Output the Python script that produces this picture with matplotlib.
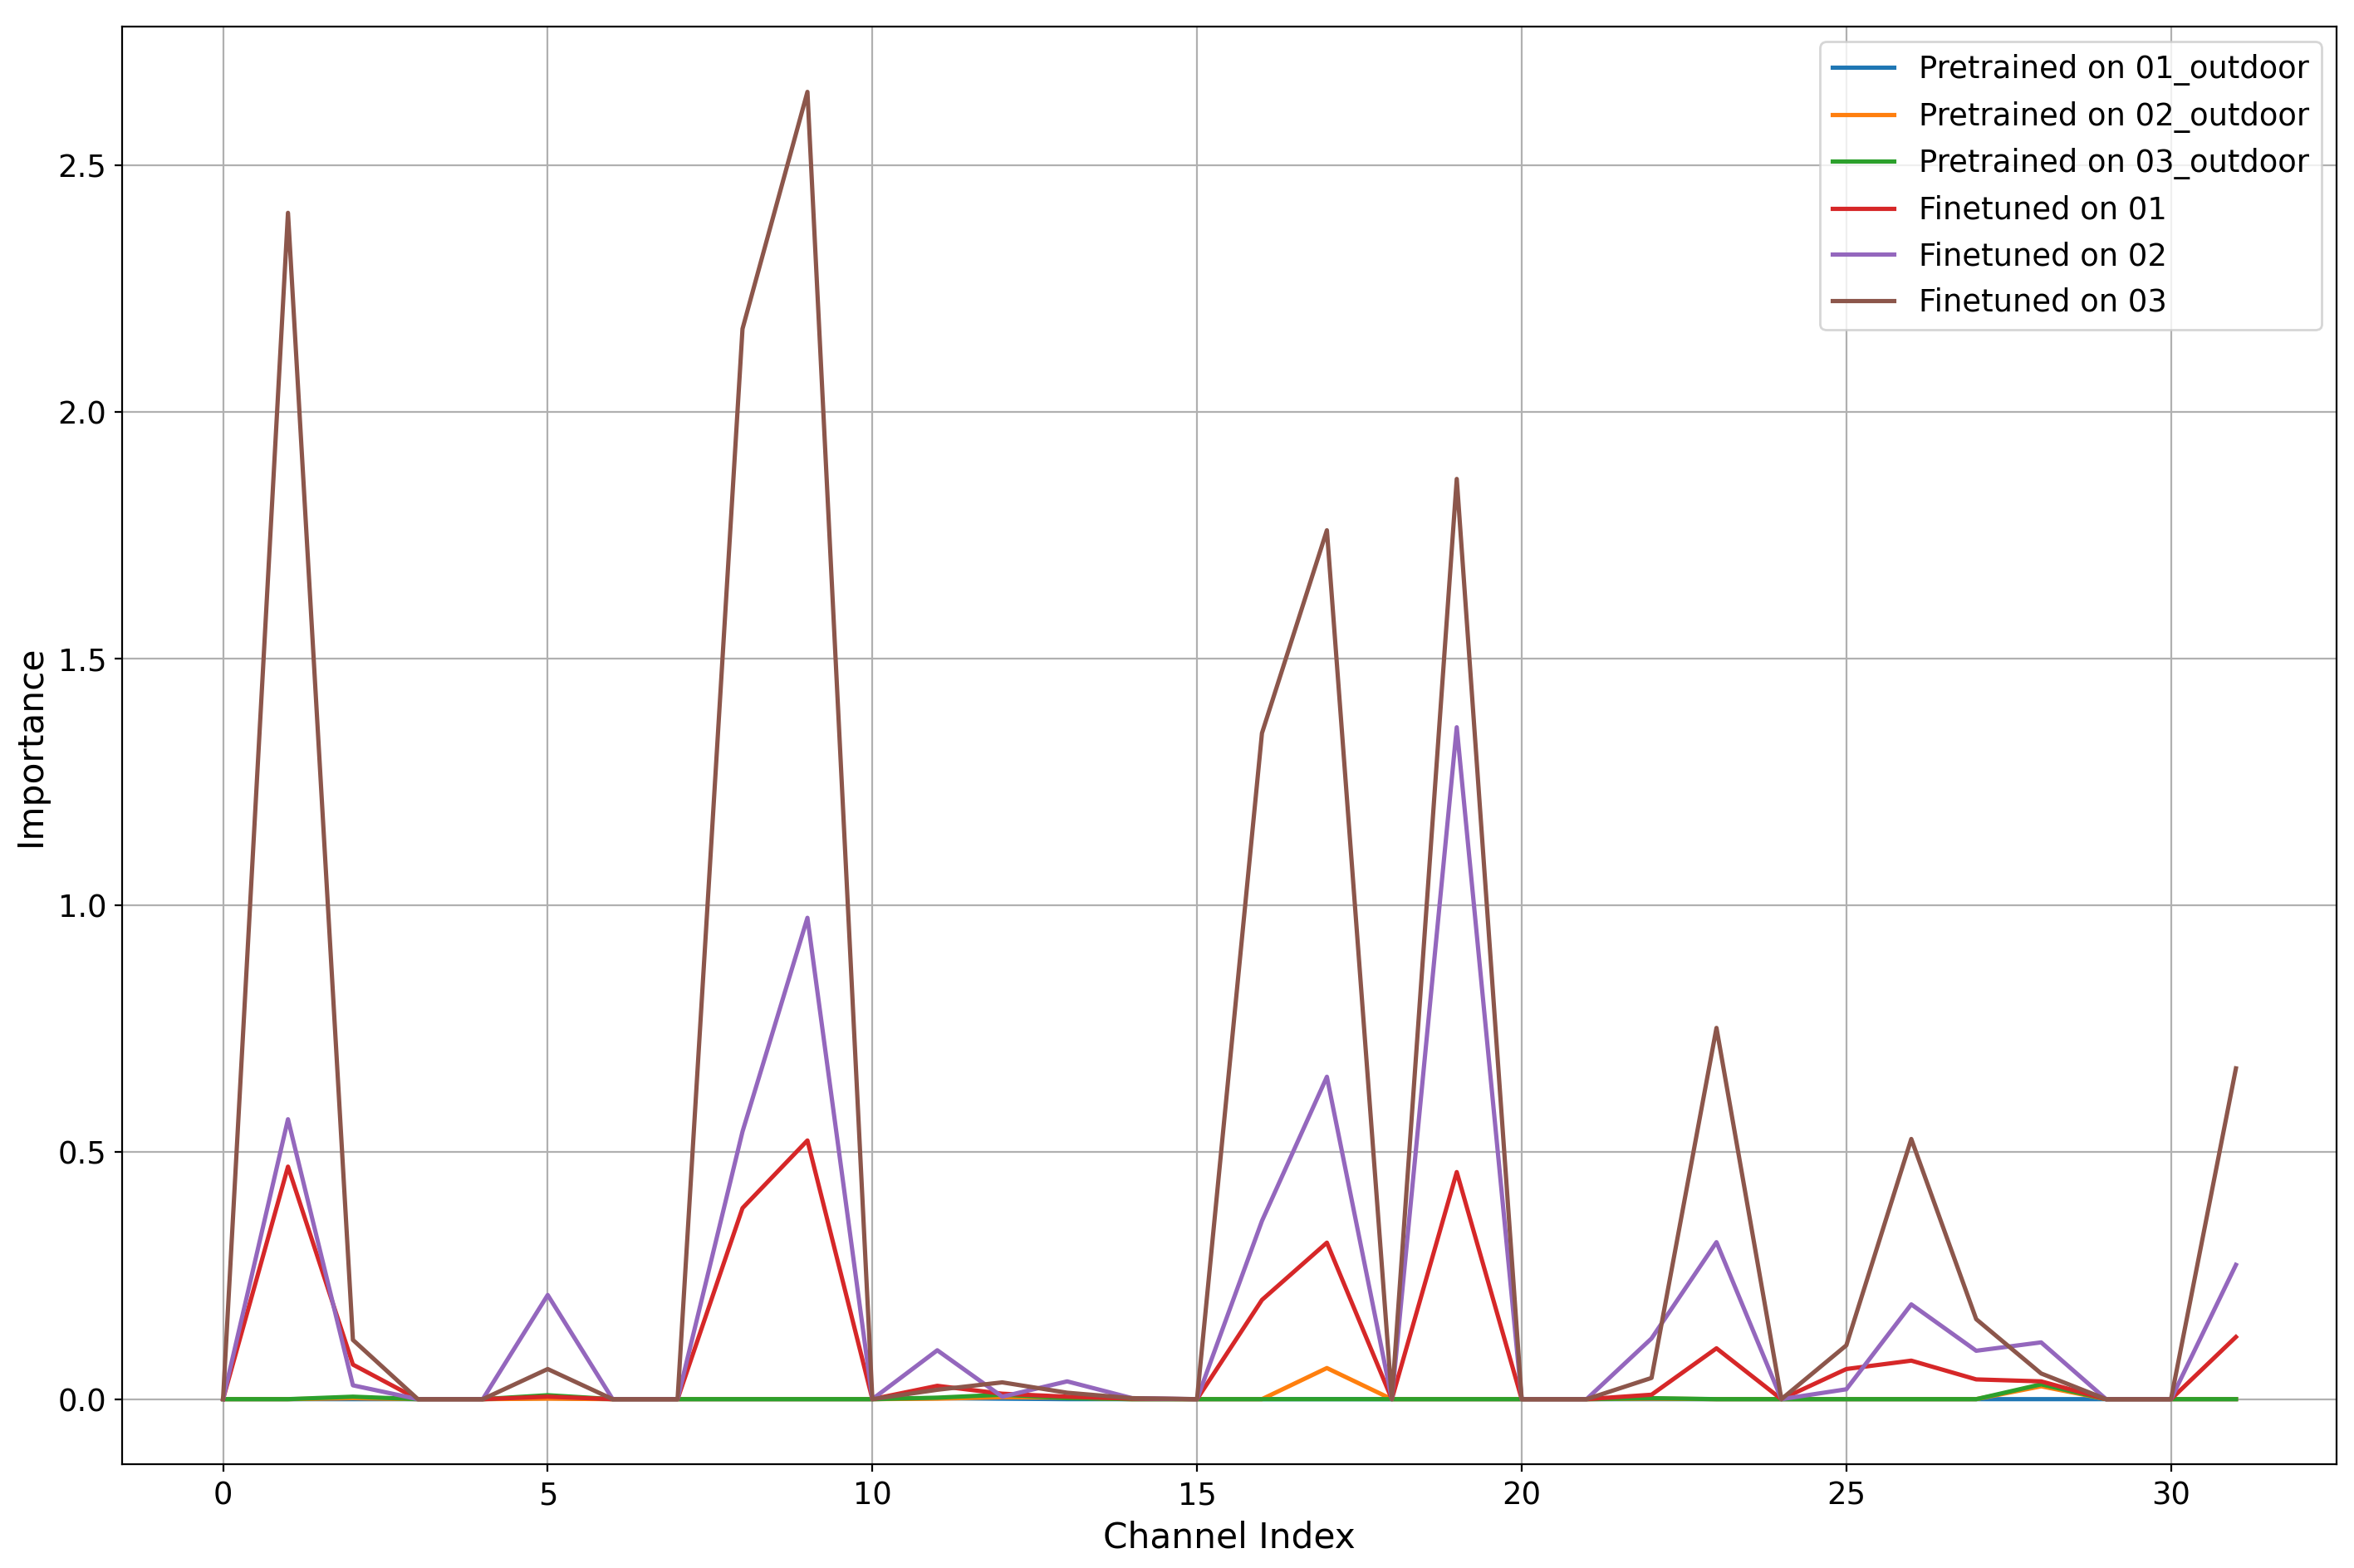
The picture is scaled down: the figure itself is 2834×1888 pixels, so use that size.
import matplotlib
matplotlib.use("Agg")
import matplotlib.pyplot as plt
import numpy as np

channels = np.arange(32)

pre_01 = [0, 0, 0, 0, 0, 0.002, 0, 0, 0, 0, 0, 0.002, 0.001, 0, 0, 0,
          0, 0, 0, 0, 0, 0, 0, 0, 0, 0, 0, 0, 0, 0, 0, 0]
pre_02 = [0, 0, 0.002, 0, 0, 0.001, 0, 0, 0, 0, 0, 0.001, 0.004, 0.003, 0, 0,
          0, 0.063, 0, 0, 0, 0, 0.001, 0, 0, 0, 0, 0, 0.026, 0, 0, 0]
pre_03 = [0, 0, 0.005, 0, 0, 0.008, 0, 0, 0, 0, 0, 0.003, 0.009, 0.002, 0, 0,
          0, 0, 0, 0, 0, 0, 0.002, 0, 0, 0, 0, 0, 0.030, 0, 0, 0]
fine_01 = [0, 0.471, 0.070, 0, 0, 0.005, 0, 0, 0.387, 0.524, 0, 0.027, 0.011, 0.005, 0.001, 0,
           0.201, 0.317, 0, 0.460, 0, 0, 0.009, 0.103, 0, 0.061, 0.078, 0.040, 0.036, 0, 0, 0.126]
fine_02 = [0, 0.567, 0.028, 0, 0, 0.211, 0, 0, 0.542, 0.975, 0, 0.099, 0.005, 0.036, 0.002, 0,
           0.361, 0.653, 0, 1.361, 0, 0, 0.123, 0.318, 0, 0.020, 0.192, 0.098, 0.115, 0, 0, 0.272]
fine_03 = [0, 2.403, 0.120, 0, 0, 0.061, 0, 0, 2.168, 2.648, 0, 0.019, 0.034, 0.013, 0.002, 0,
           1.349, 1.760, 0, 1.864, 0, 0, 0.043, 0.752, 0, 0.109, 0.527, 0.162, 0.052, 0, 0, 0.670]

series = [
    ("Pretrained on 01_outdoor", pre_01),
    ("Pretrained on 02_outdoor", pre_02),
    ("Pretrained on 03_outdoor", pre_03),
    ("Finetuned on 01", fine_01),
    ("Finetuned on 02", fine_02),
    ("Finetuned on 03", fine_03),
]

fig = plt.figure(figsize=(14.17, 9.44), dpi=200)
ax = fig.add_axes([0.0520, 0.0660, 0.9406, 0.9171])

for label, vals in series:
    ax.plot(channels, vals, label=label, linewidth=1.85)

ax.set_xlabel("Channel Index", fontsize=15.2)
ax.set_ylabel("Importance", fontsize=15.2)
ax.tick_params(labelsize=13.3, length=3.4)
ax.grid(True)
ax.legend(fontsize=13.3)

fig.savefig("out.png", dpi=200)
